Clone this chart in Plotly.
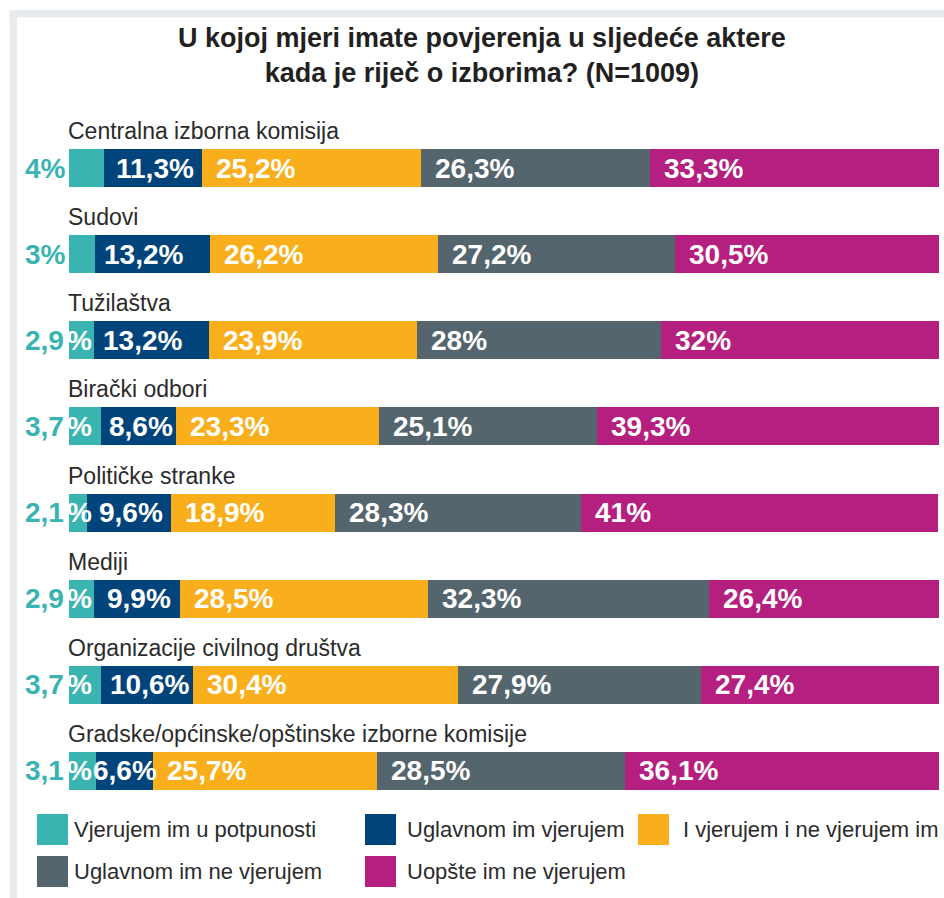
import plotly.graph_objects as go

# ---------------- data ----------------
categories = [
    "Centralna izborna komisija",
    "Sudovi",
    "Tužilaštva",
    "Birački odbori",
    "Političke stranke",
    "Mediji",
    "Organizacije civilnog društva",
    "Gradske/općinske/opštinske izborne komisije",
]
series_names = [
    "Vjerujem im u potpunosti",
    "Uglavnom im vjerujem",
    "I vjerujem i ne vjerujem im",
    "Uglavnom im ne vjerujem",
    "Uopšte im ne vjerujem",
]
vjerujem_potpuno = [4, 3, 2.9, 3.7, 2.1, 2.9, 3.7, 3.1]
uglavnom_vjerujem = [11.3, 13.2, 13.2, 8.6, 9.6, 9.9, 10.6, 6.6]
i_vjerujem_i_ne = [25.2, 26.2, 23.9, 23.3, 18.9, 28.5, 30.4, 25.7]
uglavnom_ne_vjerujem = [26.3, 27.2, 28, 25.1, 28.3, 32.3, 27.9, 28.5]
uopste_ne_vjerujem = [33.3, 30.5, 32, 39.3, 41, 26.4, 27.4, 36.1]
title_text = "U kojoj mjeri imate povjerenja u sljedeće aktere<br>kada je riječ o izborima? (N=1009)"

series_values = [vjerujem_potpuno, uglavnom_vjerujem, i_vjerujem_i_ne,
                 uglavnom_ne_vjerujem, uopste_ne_vjerujem]
colors = ["#3AB4B1", "#01437B", "#F9AF1C", "#55656E", "#B51F80"]

FONT = "Liberation Sans, Arial, sans-serif"
W, H = 944, 898
ML, MR, MT, MB = 69, 5, 125, 84
PW = W - ML - MR
PH = H - MT - MB


def px(x):
    return (x - ML) / PW


def py(y):
    return (H - MB - y) / PH


def fmt(v):
    return ("%g" % v).replace(".", ",")


fig = go.Figure()
for name, vals, col in zip(series_names, series_values, colors):
    fig.add_trace(go.Bar(
        y=categories, x=vals, name=name, orientation="h",
        marker=dict(color=col, line=dict(width=0)),
        showlegend=False, hoverinfo="x+y+name",
    ))

annotations = []
shapes = []

# category labels above bars
for cat in categories:
    annotations.append(dict(
        x=0, y=cat, xref="x", yref="y", text=cat, showarrow=False,
        xanchor="left", yanchor="middle", xshift=-3, yshift=37,
        font=dict(family=FONT, size=23, color="#2B2B2B"),
    ))

# value labels
LSIZE = 28
LBL = dict(family=FONT, size=LSIZE, color="white", weight="bold")
for i, cat in enumerate(categories):
    start = 0.0
    for s, vals in enumerate(series_values):
        v = vals[i]
        txt = fmt(v)
        if s == 0:
            if "," in txt:
                annotations.append(dict(
                    x=0, y=cat, xref="x", yref="y", text=txt, showarrow=False,
                    xanchor="right", yanchor="middle", xshift=-3,
                    font=dict(family=FONT, size=LSIZE, color=colors[0], weight="bold"),
                ))
                annotations.append(dict(
                    x=0, y=cat, xref="x", yref="y", text="%", showarrow=False,
                    xanchor="left", yanchor="middle", xshift=-4,
                    font=LBL,
                ))
            else:
                annotations.append(dict(
                    x=0, y=cat, xref="x", yref="y", text=txt + "%", showarrow=False,
                    xanchor="right", yanchor="middle", xshift=-1,
                    font=dict(family=FONT, size=LSIZE, color=colors[0], weight="bold"),
                ))
        else:
            seg_px = v / 100.0 * PW
            centre = seg_px < 65 or (s == 1 and seg_px < 110)
            if centre:
                annotations.append(dict(
                    x=start + v / 2, y=cat, xref="x", yref="y", text=txt + "%",
                    showarrow=False, xanchor="center", yanchor="middle",
                    xshift=2 if seg_px >= 65 else 0,
                    font=LBL,
                ))
            else:
                pad = 7 if s == 1 else 12
                annotations.append(dict(
                    x=start, y=cat, xref="x", yref="y", text=txt + "%",
                    showarrow=False, xanchor="left", yanchor="middle", xshift=pad,
                    font=LBL,
                ))
        start += v

# title
annotations.append(dict(
    x=px(481.5), y=py(56), xref="paper", yref="paper", text=title_text,
    showarrow=False, xanchor="center", yanchor="middle", align="center",
    font=dict(family=FONT, size=27, color="#231F20", weight="bold"),
))

# legend (manual)
legend_pos = [(37, 814, 72), (365, 814, 405), (638, 814, 681),
              (37, 856, 72), (365, 856, 405)]
for (sx, sy, tx), name, col in zip(legend_pos, series_names, colors):
    shapes.append(dict(type="rect", xref="paper", yref="paper",
                       x0=px(sx), x1=px(sx + 31), y0=py(sy + 31), y1=py(sy),
                       fillcolor=col, line=dict(width=0)))
    annotations.append(dict(
        x=px(tx), y=py(sy + 15.5), xref="paper", yref="paper", text=name,
        showarrow=False, xanchor="left", yanchor="middle",
        font=dict(family=FONT, size=22, color="#2B2B2B"),
    ))

# frame
frame_col = "#E8EBEE"
shapes.append(dict(type="rect", xref="paper", yref="paper", layer="below",
                   x0=px(9.5), x1=px(950), y0=py(17.3), y1=py(10),
                   fillcolor=frame_col, line=dict(width=0)))
shapes.append(dict(type="rect", xref="paper", yref="paper", layer="below",
                   x0=px(9.5), x1=px(17), y0=py(905), y1=py(10),
                   fillcolor=frame_col, line=dict(width=0)))

fig.update_layout(
    width=W, height=H,
    margin=dict(l=ML, r=MR, t=MT, b=MB, pad=0),
    barmode="stack", bargap=1 - 38 / 86,
    paper_bgcolor="white", plot_bgcolor="white",
    xaxis=dict(range=[0, 100], visible=False, fixedrange=True),
    yaxis=dict(categoryorder="array", categoryarray=categories,
               range=[len(categories) - 0.5, -0.5], visible=False),
    annotations=annotations, shapes=shapes,
    showlegend=False,
    font=dict(family=FONT),
)

fig.write_html(
    "out.html",
    config={"displayModeBar": False},
    post_script="document.body.style.margin='0';document.body.style.overflow='hidden';",
)
